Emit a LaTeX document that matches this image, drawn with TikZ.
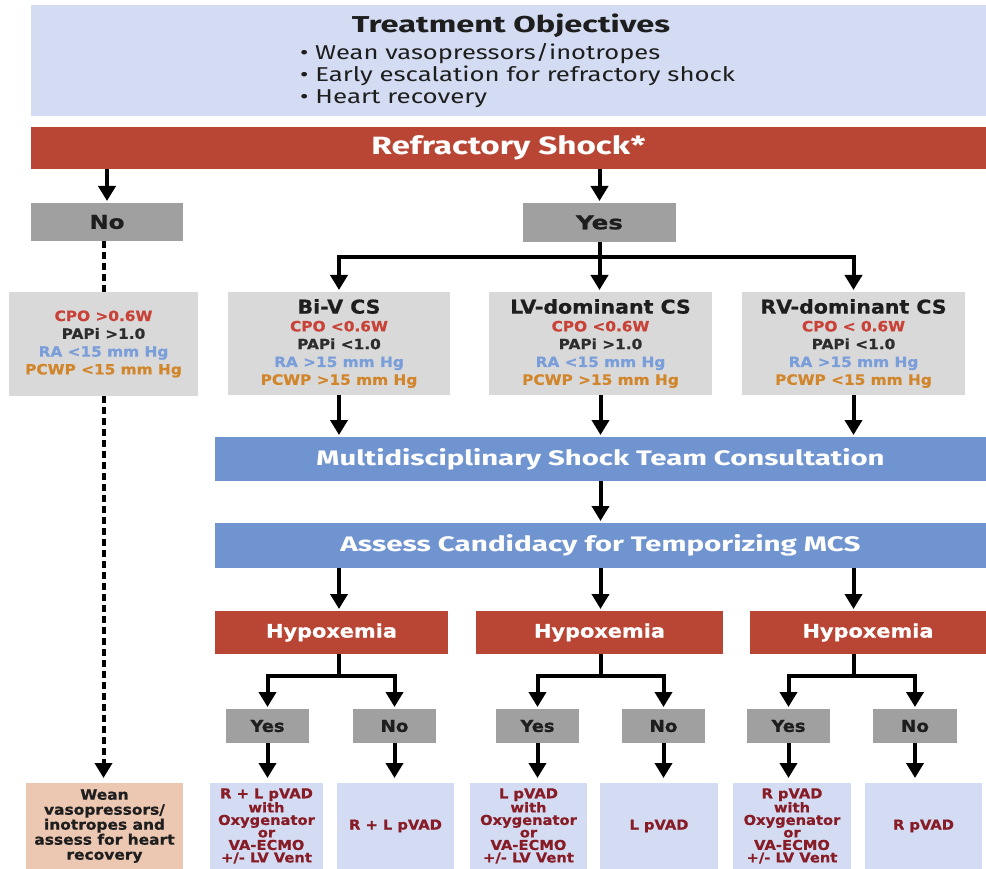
\documentclass[tikz,border=0pt]{standalone}
\usepackage{fontspec}
\usepackage{graphicx}
\setmainfont{Fira Sans}
\newfontfamily\vfont[FakeStretch=1.08, BoldFeatures={FakeBold=0.8}]{DejaVu Sans}
\usetikzlibrary{arrows.meta}
\definecolor{topblue}{RGB}{211,220,242}
\definecolor{shockred}{RGB}{185,70,53}
\definecolor{midgray}{RGB}{160,160,160}
\definecolor{lightgray}{RGB}{217,217,217}
\definecolor{barblue}{RGB}{112,148,208}
\definecolor{peach}{RGB}{236,199,178}
\definecolor{cpored}{RGB}{200,66,56}
\definecolor{papigray}{RGB}{45,45,45}
\definecolor{rablue}{RGB}{122,158,218}
\definecolor{pcwporange}{RGB}{210,134,44}
\definecolor{outred}{RGB}{135,28,38}
\definecolor{darktext}{RGB}{30,30,30}
\newcommand\hw[2]{\resizebox{#1pt}{\height}{#2}}
\tikzset{
  box/.style={anchor=north west, inner sep=0pt, outer sep=0pt, align=center},
  arr/.style={line width=4pt, -{Triangle[width=17pt,length=15pt]}, shorten >=2pt},
  arrb/.style={arr, shorten >=5pt},
  plain/.style={line width=4pt},
  dline/.style={line width=4pt, dash pattern=on 7pt off 4pt},
  graybox/.style={box, fill=lightgray, font={\vfont\bfseries\fontsize{14.2}{17.8}\selectfont}},
  ynbox/.style={box, fill=midgray, text=darktext, font={\vfont\bfseries}},
  outbox/.style={box, fill=topblue, text=outred, font={\vfont\bfseries\fontsize{13.6}{12.5}\selectfont}},
  hypbox/.style={box, fill=shockred, text=white, font={\vfont\bfseries}},
  bluebar/.style={box, fill=barblue, text=white, font={\bfseries}},
}
\begin{document}
\begin{tikzpicture}[x=1pt,y=-1pt]
\useasboundingbox (0,0) rectangle (986,869);
\fill[white] (0,0) rectangle (986,869);
% top
\node[box, fill=topblue, minimum width=955pt, minimum height=111pt] (obj) at (31,5) {};
\node[anchor=base, inner sep=0pt, text=darktext] (title) at (511,33) {\hw{318}{\bfseries\fontsize{23}{23}\selectfont Treatment Objectives}};
\node[anchor=base west, inner sep=0pt, text=darktext] (b1) at (300,60) {\hw{360}{\fontsize{20}{20}\selectfont • Wean vasopressors/inotropes}};
\node[anchor=base west, inner sep=0pt, text=darktext] (b2) at (300,82) {\hw{435}{\fontsize{20}{20}\selectfont • Early escalation for refractory shock}};
\node[anchor=base west, inner sep=0pt, text=darktext] (b3) at (300,104) {\hw{187}{\fontsize{20}{20}\selectfont • Heart recovery}};
% refractory
\node[box, fill=shockred, text=white, minimum width=955pt, minimum height=42pt] (rs) at (31,127) {\hw{274}{\bfseries\fontsize{25}{25}\selectfont Refractory Shock*}};
% yes / no
\node[ynbox, minimum width=152pt, minimum height=38pt] (no0) at (31,203) {\hw{35}{\fontsize{19}{19}\selectfont No}};
\node[ynbox, minimum width=153pt, minimum height=39pt] (yes0) at (523,203) {\hw{47}{\fontsize{19}{19}\selectfont Yes}};
% gray boxes
\node[graybox, minimum width=189pt, minimum height=104pt] (lft) at (9,292)
 {\textcolor{cpored}{CPO >0.6W}\\\textcolor{papigray}{PAPi >1.0}\\\textcolor{rablue}{RA <15 mm Hg}\\\textcolor{pcwporange}{PCWP <15 mm Hg}};
\node[graybox, minimum width=222pt, minimum height=103pt] (biv) at (228,292)
 {\textcolor{darktext}{\fontsize{19}{19}\selectfont Bi-V CS}\\\textcolor{cpored}{CPO <0.6W}\\\textcolor{papigray}{PAPi <1.0}\\\textcolor{rablue}{RA >15 mm Hg}\\\textcolor{pcwporange}{PCWP >15 mm Hg}};
\node[graybox, minimum width=223pt, minimum height=103pt] (lv) at (489,292)
 {\textcolor{darktext}{\fontsize{19}{19}\selectfont LV-dominant CS}\\\textcolor{cpored}{CPO <0.6W}\\\textcolor{papigray}{PAPi >1.0}\\\textcolor{rablue}{RA <15 mm Hg}\\\textcolor{pcwporange}{PCWP >15 mm Hg}};
\node[graybox, minimum width=223pt, minimum height=103pt] (rv) at (742,292)
 {\textcolor{darktext}{\fontsize{19}{19}\selectfont RV-dominant CS}\\\textcolor{cpored}{CPO < 0.6W}\\\textcolor{papigray}{PAPi <1.0}\\\textcolor{rablue}{RA >15 mm Hg}\\\textcolor{pcwporange}{PCWP <15 mm Hg}};
% bars
\node[bluebar, minimum width=771pt, minimum height=44pt] (mst) at (215,437) {\hw{568}{\fontsize{21}{21}\selectfont Multidisciplinary Shock Team Consultation}};
\node[bluebar, minimum width=771pt, minimum height=45pt] (acm) at (215,523) {\hw{520}{\fontsize{21}{21}\selectfont Assess Candidacy for Temporizing MCS}};
% hypoxemia
\node[hypbox, minimum width=233pt, minimum height=43pt] (h1) at (215,611) {\hw{131}{\fontsize{18.5}{18.5}\selectfont Hypoxemia}};
\node[hypbox, minimum width=247pt, minimum height=43pt] (h2) at (476,611) {\hw{131}{\fontsize{18.5}{18.5}\selectfont Hypoxemia}};
\node[hypbox, minimum width=236pt, minimum height=43pt] (h3) at (750,611) {\hw{131}{\fontsize{18.5}{18.5}\selectfont Hypoxemia}};
% small yes/no
\node[ynbox, minimum width=83pt, minimum height=34pt] (y1) at (226,709) {\hw{34}{\fontsize{16.5}{16.5}\selectfont Yes}};
\node[ynbox, minimum width=83pt, minimum height=34pt] (n1) at (353,709) {\hw{28}{\fontsize{16.5}{16.5}\selectfont No}};
\node[ynbox, minimum width=83pt, minimum height=34pt] (y2) at (496,709) {\hw{34}{\fontsize{16.5}{16.5}\selectfont Yes}};
\node[ynbox, minimum width=83pt, minimum height=34pt] (n2) at (622,709) {\hw{28}{\fontsize{16.5}{16.5}\selectfont No}};
\node[ynbox, minimum width=83pt, minimum height=34pt] (y3) at (747,709) {\hw{34}{\fontsize{16.5}{16.5}\selectfont Yes}};
\node[ynbox, minimum width=84pt, minimum height=34pt] (n3) at (873,709) {\hw{28}{\fontsize{16.5}{16.5}\selectfont No}};
% outputs
\node[box, fill=peach, text=darktext, minimum width=157pt, minimum height=86pt, font={\vfont\bfseries\fontsize{14.3}{15}\selectfont}] (wean) at (26,783)
 {Wean\\vasopressors/\\inotropes and\\assess for heart\\recovery};
\node[outbox, minimum width=113pt, minimum height=86pt] (o1) at (210,783) {R + L pVAD\\with\\Oxygenator\\or\\VA-ECMO\\+/- LV Vent};
\node[outbox, minimum width=117pt, minimum height=86pt] (o2) at (337,783) {R + L pVAD};
\node[outbox, minimum width=117pt, minimum height=86pt] (o3) at (470,783) {L pVAD\\with\\Oxygenator\\or\\VA-ECMO\\+/- LV Vent};
\node[outbox, minimum width=118pt, minimum height=86pt] (o4) at (600,783) {L pVAD};
\node[outbox, minimum width=118pt, minimum height=86pt] (o5) at (733,783) {R pVAD\\with\\Oxygenator\\or\\VA-ECMO\\+/- LV Vent};
\node[outbox, minimum width=117pt, minimum height=86pt] (o6) at (865,783) {R pVAD};
% connectors
\draw[arr] (rs.south -| no0.north) -- (no0.north);
\draw[arr] (rs.south -| yes0.north) -- (yes0.north);
\path (yes0.south) ++(0,15) coordinate (jy);
\draw[plain] (yes0.south) -- (jy);
\draw[arr] (jy) -| (biv.north);
\draw[arr] (jy) -| (rv.north);
\draw[arr] (jy) -- (jy |- lv.north);
\draw[dline] (lft.north |- no0.south) -- (lft.north);
\draw[dline, arrb] (lft.south) -- (lft.south |- wean.north);
\draw[arr] (biv.south) -- (biv.south |- mst.north);
\draw[arr] (lv.south) -- (lv.south |- mst.north);
\draw[arr] (rv.south) -- (rv.south |- mst.north);
\draw[arr] (mst.south -| lv.south) -- (acm.north -| lv.south);
\draw[arr] (acm.south -| biv.south) -- (h1.north -| biv.south);
\draw[arr] (acm.south -| lv.south) -- (h2.north -| lv.south);
\draw[arr] (acm.south -| rv.south) -- (h3.north -| rv.south);
\path (h1.south -| biv.south) ++(0,22) coordinate (j1);
\path (h2.south -| lv.south) ++(0,22) coordinate (j2);
\path (h3.south -| rv.south) ++(0,22) coordinate (j3);
\draw[plain] (h1.south -| j1) -- (j1);
\draw[plain] (h2.south -| j2) -- (j2);
\draw[plain] (h3.south -| j3) -- (j3);
\draw[arr] (j1) -| (y1.north);
\draw[arr] (j1) -| (n1.north);
\draw[arr] (j2) -| (y2.north);
\draw[arr] (j2) -| (n2.north);
\draw[arr] (j3) -| (y3.north);
\draw[arr] (j3) -| (n3.north);
\draw[arrb] (y1.south) -- (y1.south |- o1.north);
\draw[arrb] (n1.south) -- (n1.south |- o2.north);
\draw[arrb] (y2.south) -- (y2.south |- o3.north);
\draw[arrb] (n2.south) -- (n2.south |- o4.north);
\draw[arrb] (y3.south) -- (y3.south |- o5.north);
\draw[arrb] (n3.south) -- (n3.south |- o6.north);
\end{tikzpicture}
\end{document}
